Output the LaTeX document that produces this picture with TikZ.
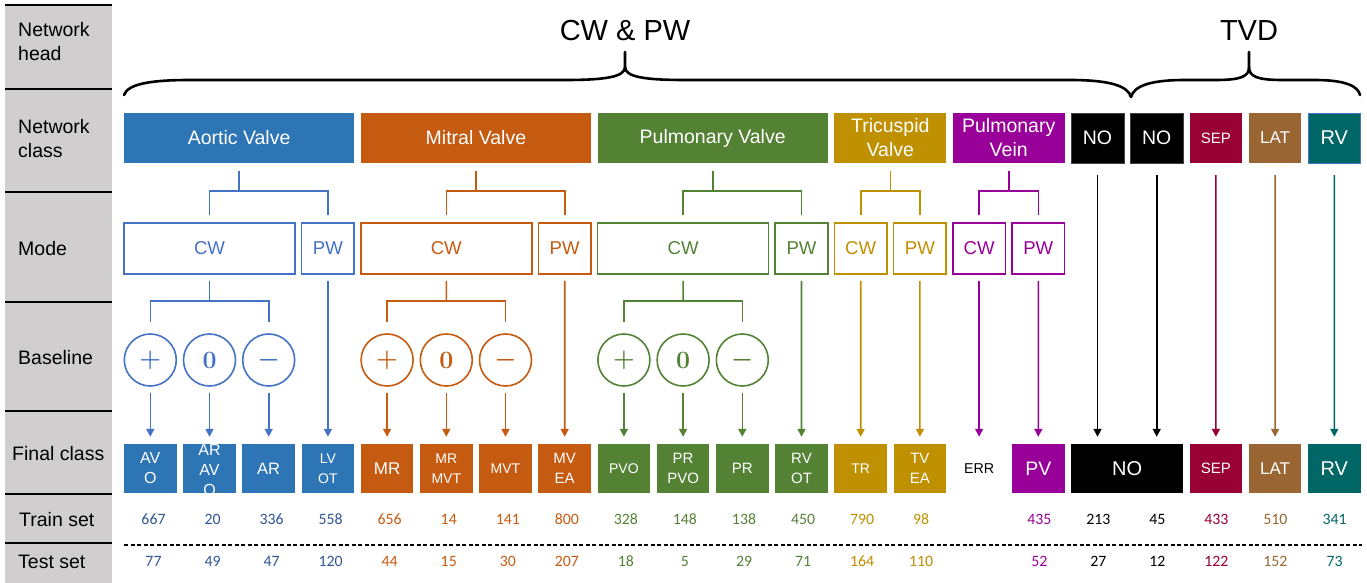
\documentclass[tikz,border=0pt]{standalone}
\usepackage[no-math]{fontspec}
\setmainfont{Liberation Sans}
\newfontfamily\numfont{Carlito}
\usetikzlibrary{arrows.meta,calc}
\definecolor{headgrey}{RGB}{208,206,206}
\definecolor{avblue}{RGB}{46,117,182}
\definecolor{avline}{RGB}{68,114,196}
\definecolor{avnum}{RGB}{47,85,151}
\definecolor{mvorange}{RGB}{197,90,17}
\definecolor{pvgreen}{RGB}{84,130,53}
\definecolor{tvgold}{RGB}{191,144,0}
\definecolor{pvvmag}{RGB}{153,0,153}
\definecolor{sepred}{RGB}{153,0,51}
\definecolor{latbrown}{RGB}{153,102,51}
\definecolor{rvteal}{RGB}{0,102,102}

\begin{document}
\begin{tikzpicture}[x=1pt, y=-1pt,
    lbl/.style={anchor=west, align=left, inner sep=0pt, font=\fontsize{19.5}{24}\selectfont},
    clsbox/.style={fill=#1, text=white, inner sep=0pt, minimum height=50, align=center, font=\fontsize{19.5}{24}\selectfont},
    modebox/.style={draw=#1, text=#1, line width=1.6pt, inner sep=0pt, minimum height=51, font=\fontsize{18.6}{22}\selectfont},
    basecirc/.style={circle, draw=#1, text=#1, line width=1.6pt, minimum size=52, inner sep=0pt, font=\boldmath\fontsize{25}{25}\selectfont},
    finbox/.style={fill=#1, text=white, inner sep=0pt, minimum width=52.6, minimum height=49, align=center},
    conn/.style={draw=#1, line width=1.6pt},
    arr/.style={conn=#1, -{Triangle[length=8pt,width=8pt]}, shorten >=7pt},
    num/.style={text=#1, inner sep=0pt, font=\numfont\fontsize{15.8}{18}\selectfont}]
\useasboundingbox (0,0) rectangle (1367,583);

% row heads
\fill[headgrey] (5,5) rectangle (112,583);
\foreach \y in {5,89,192,302,411,494,543} {
    \draw[line width=2.4pt] (5,\y) -- (112,\y);
}
\node[lbl] (lbl-head) at (18,42) {Network\\head};
\node[lbl] (lbl-cls) at (18,139) {Network\\class};
\node[lbl] (lbl-mode) at (18,249) {Mode};
\node[lbl] (lbl-base) at (18,358) {Baseline};
\node[lbl] (lbl-fin) at (12,454) {Final class};
\node[lbl] (lbl-train) at (19,520) {Train set};
\node[lbl] (lbl-test) at (18,562) {Test set};

% network heads
\node[font=\fontsize{29}{30}\selectfont] (head-cwpw) at (625,31) {CW \& PW};
\node[font=\fontsize{29}{30}\selectfont] (head-tvd) at (1249,31) {TVD};
\draw[line width=2.6pt, line cap=round] (124,95) .. controls (128,83) and (155,80) .. (190,80) -- (565,80)
    .. controls (605,80) and (625,77) .. (625,67) -- (625,52);
\draw[line width=2.6pt, line cap=round] (625,67) .. controls (625,77) and (645,80) .. (685,80) -- (1070,80)
    .. controls (1110,80) and (1128,86) .. (1131,97);
\draw[line width=2.6pt, line cap=round] (1131,97) .. controls (1134,86) and (1150,80) .. (1185,80) -- (1215,80)
    .. controls (1240,80) and (1249,77) .. (1249,67) -- (1249,52);
\draw[line width=2.6pt, line cap=round] (1249,67) .. controls (1249,77) and (1258,80) .. (1283,80) -- (1315,80)
    .. controls (1345,80) and (1358,86) .. (1360,95);

% network class
\node[clsbox=avblue, minimum width=230.2] (av) at (239.1,138) {Aortic Valve};
\node[clsbox=mvorange, minimum width=230.2] (mv) at (475.9,138) {Mitral Valve};
\node[clsbox=pvgreen, minimum width=230.2] (pv) at (712.7,138) {Pulmonary Valve};
\node[clsbox=tvgold, minimum width=111.8] (tv) at (890.3,138) {Tricuspid\\Valve};
\node[clsbox=pvvmag, minimum width=111.8] (pvv) at (1008.7,138) {Pulmonary\\Vein};
\node[clsbox=black, minimum width=52.6, draw=darkgray] (no1) at (1097.5,138) {NO};
\node[clsbox=black, minimum width=52.6, draw=darkgray] (no2) at (1156.7,138) {NO};
\node[clsbox=sepred, minimum width=52.6, font=\fontsize{15}{18}\selectfont] (sep) at (1215.9,138) {SEP};
\node[clsbox=latbrown, minimum width=52.6, font=\fontsize{17}{20}\selectfont] (lat) at (1275.1,138) {LAT};
\node[clsbox=rvteal, minimum width=52.6, draw=avline, font=\fontsize{20}{22}\selectfont] (rv) at (1334.3,138) {RV};

% mode
\node[modebox=avline, minimum width=171] (av-cw) at (209.5,248.5) {CW};
\node[modebox=avline, minimum width=52.6] (av-pw) at (327.9,248.5) {PW};
\node[modebox=mvorange, minimum width=171] (mv-cw) at (446.3,248.5) {CW};
\node[modebox=mvorange, minimum width=52.6] (mv-pw) at (564.7,248.5) {PW};
\node[modebox=pvgreen, minimum width=171] (pv-cw) at (683.1,248.5) {CW};
\node[modebox=pvgreen, minimum width=52.6] (pv-pw) at (801.5,248.5) {PW};
\node[modebox=tvgold, minimum width=52.6] (tv-cw) at (860.7,248.5) {CW};
\node[modebox=tvgold, minimum width=52.6] (tv-pw) at (919.9,248.5) {PW};
\node[modebox=pvvmag, minimum width=52.6] (pvv-cw) at (979.1,248.5) {CW};
\node[modebox=pvvmag, minimum width=52.6] (pvv-pw) at (1038.3,248.5) {PW};

\foreach \g/\col in {av/avline,mv/mvorange,pv/pvgreen,tv/tvgold,pvv/pvvmag} {
    \draw[conn=\col] ($(\g.south)+(0,8)$) -- ($(\g.south)+(0,29)$);
    \draw[conn=\col] ($(\g-cw.north)+(0,-7)$) |- ($(\g-pw.north)+(0,-31)$) -- ($(\g-pw.north)+(0,-7)$);
}

% final class
\foreach \i/\lab/\col/\fs in {0/AV\\O/avblue/16, 2/AR/avblue/16.5, 3/LV\\OT/avblue/14,
    4/MR/mvorange/17, 5/MR\\MVT/mvorange/14, 6/MVT/mvorange/14, 7/MV\\EA/mvorange/15,
    8/PVO/pvgreen/14, 9/PR\\PVO/pvgreen/15, 10/PR/pvgreen/15, 11/RV\\OT/pvgreen/15,
    12/TR/tvgold/14, 13/TV\\EA/tvgold/15, 15/PV/pvvmag/19.5,
    18/SEP/sepred/15, 19/LAT/latbrown/17, 20/RV/rvteal/20} {
    \node[finbox=\col, font=\fontsize{\fs}{20}\selectfont] (f\i) at ({150.3+59.2*\i},468.5) {\lab};
}
% three lines, last one runs out of the box
\node[finbox=avblue] (f1) at (209.5,468.5) {};
\node[text=white, align=center, inner sep=0pt, font=\fontsize{16}{20}\selectfont] (f1-lab) at (209.5,470) {AR\\AV\\O};
\node[finbox=white, text=black, font=\fontsize{14.3}{18}\selectfont] (f14) at (979.1,468.5) {ERR};
\node[finbox=black, minimum width=111.8, font=\fontsize{20}{22}\selectfont] (f16) at (1127.1,468.5) {NO};

% baseline
\foreach \g/\col/\k in {av/avline/0,mv/mvorange/4,pv/pvgreen/8} {
    \foreach \s[count=\j from 0] in {+,0,-} {
        \node[basecirc=\col] (\g-b\j) at ({150.3+59.2*(\k+\j)},360) {$\s$};
    }
    \draw[conn=\col] ($(\g-cw.south)+(0,6)$) -- ($(\g-b1.north)+(0,-32)$);
    \draw[conn=\col] ($(\g-b0.north)+(0,-11)$) |- ($(\g-b2.north)+(0,-32)$) -- ($(\g-b2.north)+(0,-11)$);
    \foreach \j in {0,1,2} {
        \pgfmathtruncatemacro{\n}{\k+\j}
        \draw[arr=\col] ($(\g-b\j.south)+(0,6)$) -- (f\n.north);
    }
}

% single arrows
\draw[arr=avline] ($(av-pw.south)+(0,6)$) -- (f3.north);
\draw[arr=mvorange] ($(mv-pw.south)+(0,6)$) -- (f7.north);
\draw[arr=pvgreen] ($(pv-pw.south)+(0,6)$) -- (f11.north);
\draw[arr=tvgold] ($(tv-cw.south)+(0,6)$) -- (f12.north);
\draw[arr=tvgold] ($(tv-pw.south)+(0,6)$) -- (f13.north);
\draw[arr=pvvmag] ($(pvv-cw.south)+(0,6)$) -- (f14.north);
\draw[arr=pvvmag] ($(pvv-pw.south)+(0,6)$) -- (f15.north);
\draw[arr=black] ($(no1.south)+(0,12)$) -- (no1.south |- f16.north);
\draw[arr=black] ($(no2.south)+(0,12)$) -- (no2.south |- f16.north);
\draw[arr=sepred] ($(sep.south)+(0,12)$) -- (f18.north);
\draw[arr=latbrown] ($(lat.south)+(0,12)$) -- (f19.north);
\draw[arr=rvteal] ($(rv.south)+(0,12)$) -- (f20.north);

% train and test sets
\foreach \i/\tr/\te/\col in {0/667/77/avnum, 1/20/49/avnum, 2/336/47/avnum, 3/558/120/avnum,
    4/656/44/mvorange, 5/14/15/mvorange, 6/141/30/mvorange, 7/800/207/mvorange,
    8/328/18/pvgreen, 9/148/5/pvgreen, 10/138/29/pvgreen, 11/450/71/pvgreen,
    12/790/164/tvgold, 13/98/110/tvgold, 15/435/52/pvvmag, 16/213/27/black, 17/45/12/black,
    18/433/122/sepred, 19/510/152/latbrown, 20/341/73/rvteal} {
    \node[num=\col] (tr\i) at ({153.5+59.05*\i},519) {\tr};
    \node[num=\col] (te\i) at ({153.5+59.05*\i},561) {\te};
}
\draw[dash pattern=on 4pt off 2.5pt, line width=1.2pt] (124,545) -- (1362,545);
\end{tikzpicture}
\end{document}
